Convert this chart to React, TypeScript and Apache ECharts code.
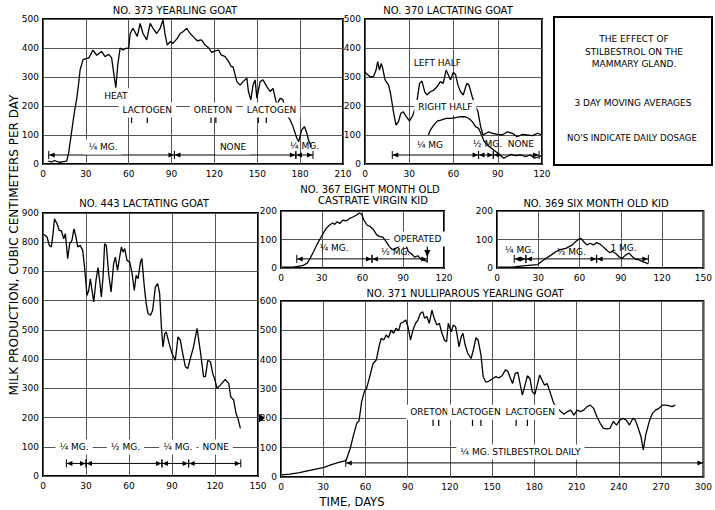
import React, { useEffect, useRef } from 'react';
import * as echarts from 'echarts';

const FONT = '"DejaVu Sans", "Liberation Sans", sans-serif';

// ---------- data (day, cc per day) ----------
const goat373: number[][] = [
  [3.7, 10], [6, 7], [8, 12], [10, 8], [12, 6], [14, 8], [16.6, 10], [18, 40], [20, 110], [22, 180], [23.6, 225], [25, 280],
  [26, 325], [28, 360], [30, 363], [32, 365], [35, 393], [37.6, 375], [41, 388], [43.4, 370], [46, 378], [48, 367], [50, 296],
  [51, 263], [52.3, 340], [54, 400], [56, 393], [58.6, 400], [60, 397], [61, 450], [63, 468], [66, 440], [68, 485], [70, 450],
  [72.6, 428], [75, 485], [77, 468], [79.6, 450], [82, 468], [84, 497], [85.5, 445], [87, 410], [89, 422], [91, 416], [94, 433],
  [96, 450], [98, 456], [100.6, 468], [103, 450], [105, 440], [108, 425], [111, 428], [113.5, 410], [116, 400], [118, 385],
  [120.5, 390], [123, 393], [124.7, 376], [127.5, 370], [130, 353], [131.7, 336], [133, 336], [135.7, 284], [138, 272], [140, 284],
  [142.7, 296], [143.8, 250], [145.5, 221], [147, 272], [148.5, 290], [149.7, 227], [152, 284], [154, 290], [156.7, 267], [159, 250],
  [161, 261], [163.7, 204], [166, 227], [168, 221], [170.7, 169], [173, 152], [175, 129], [177.7, 89], [179, 77], [181, 117],
  [183, 129], [184.7, 106], [186, 80], [188, 60],
];
const goat370Left: number[][] = [
  [0, 316], [3.4, 301], [5.7, 301], [7.5, 324], [8.6, 353], [9.8, 324], [11, 347], [12, 330], [13.6, 290], [16, 272], [17.5, 238],
  [19.3, 180], [21, 134], [22.7, 146], [24.3, 175], [26, 180], [28, 163], [30.2, 148], [32.5, 169], [34.8, 203], [37, 278],
  [38.6, 286], [40.5, 249], [42, 238], [44.3, 249], [46.6, 255], [49, 267], [51, 284], [53, 278], [55, 324], [56, 313], [58, 290],
  [59.8, 316], [61.4, 309], [63, 272], [64.8, 249], [66.6, 238], [69, 278], [70.5, 272], [72.7, 232], [75, 198], [76.6, 180],
  [78.4, 129], [80, 100], [82, 106], [84, 111], [86, 106], [90, 102], [93, 100], [96.6, 111], [100, 106], [103, 94], [107, 102],
  [110, 100], [113.6, 98], [117, 106], [120, 100],
];
const goat370Right: number[][] = [
  [43, 100], [44.3, 117], [46.6, 134], [49, 148], [52, 152], [55, 157], [58, 157], [61.4, 160], [64.8, 163], [68, 163], [70.5, 157],
  [72.7, 146], [75, 129], [77, 123], [79, 100], [80.7, 79], [83, 65], [85.7, 54], [88.6, 43], [91.6, 31], [94, 20], [96, 25],
  [99, 33], [102, 29], [105.7, 31], [109, 25], [112, 31], [114.8, 20], [118, 25], [120, 31],
];
const goat443: number[][] = [
  [0.5, 827], [2.8, 818], [4.4, 789], [5.8, 784], [7, 829], [8, 880], [9.8, 863], [11.4, 840], [12.8, 840], [14.4, 812], [15.6, 829],
  [17.2, 744], [18.6, 795], [20.2, 806], [21.6, 846], [23, 818], [24.2, 784], [26, 789], [27.7, 772], [29, 715], [30.7, 618],
  [31.9, 635], [33, 675], [34.2, 635], [35.4, 596], [37, 670], [38.4, 713], [39.5, 670], [40.7, 613], [41.9, 681], [43, 795],
  [44.2, 789], [45.8, 692], [47.5, 630], [49.3, 727], [50.5, 749], [52, 704], [53.3, 744], [54.7, 784], [55.8, 766], [57, 778],
  [58.6, 738], [60.5, 732], [62, 698], [63.7, 635], [65, 687], [66.3, 675], [68, 732], [69, 744], [70.7, 647], [72, 590], [73.3, 556],
  [75, 550], [76.5, 567], [78.4, 647], [80, 658], [81.4, 624], [82.6, 510], [83.7, 442], [85, 487], [86, 493], [87.7, 459], [90, 419],
  [92.3, 396], [94.2, 476], [95.8, 465], [97.5, 419], [99.3, 374], [101, 368], [102.8, 402], [105, 442], [107.5, 505], [110, 419],
  [112, 340], [113.3, 340], [115, 396], [116.8, 391], [118.4, 351], [120, 328], [121.4, 300], [123.7, 311], [127, 330], [129.6, 317],
  [131, 271], [133, 260], [134.7, 214], [136, 197], [137.7, 163],
];
const goat367: number[][] = [
  [0.7, 3], [8.8, 3], [15.8, 8], [19.3, 17], [21.6, 35], [24, 58], [26.3, 81], [28.6, 101], [31, 121], [33.3, 139], [35.6, 150],
  [38, 158], [39.5, 153], [41.4, 162], [43.3, 156], [45.6, 168], [48, 165], [50.2, 173], [53, 179], [55.4, 185], [57.7, 193],
  [59.5, 188], [61, 168], [63.5, 150], [65.8, 145], [68, 135], [70.5, 116], [72.8, 110], [75, 108], [77.5, 92], [79.8, 75], [82, 64],
  [84.4, 69], [86.8, 75], [89, 92], [91.4, 87], [93.7, 58], [96, 50], [98.4, 38], [100.7, 43], [103, 31], [105.4, 27], [107.7, 23],
];
const goat369: number[][] = [
  [0.7, 3], [11.3, 3], [20.7, 8], [29.6, 12], [32.4, 23], [36, 35], [39.5, 46], [43, 58], [45.4, 64], [47.7, 66], [50, 69], [52.4, 75],
  [54.8, 81], [57, 92], [59.5, 101], [61, 104], [63, 92], [65.4, 81], [67.7, 87], [70, 81], [72.4, 89], [74.8, 84], [77, 75],
  [79.5, 64], [81.8, 54], [84, 58], [86.5, 50], [89, 38], [91.2, 35], [93.6, 46], [96, 52], [98.3, 40], [100.6, 31], [103, 29],
  [105.3, 23], [108.8, 17], [110, 14],
];
const goat371: number[][] = [
  [0.5, 7], [6.3, 10], [13.2, 15], [17.9, 20], [24.8, 27], [30.6, 33], [35.3, 41], [41, 50], [46.2, 56], [49.2, 98], [51.5, 143],
  [53.8, 183], [55.4, 191], [57.3, 257], [59.2, 291], [60.8, 302], [63, 342], [65.4, 387], [67.7, 399], [69.6, 444], [71.2, 473],
  [73, 467], [74.7, 484], [76.3, 475], [78.2, 501], [80, 490], [81.7, 507], [83.5, 498], [85, 524], [87, 529], [88.6, 535],
  [90.2, 512], [92, 467], [93.7, 501], [95.6, 524], [97.2, 535], [99, 558], [100.7, 563], [102, 541], [103.7, 547], [105.3, 524],
  [107.2, 569], [108.8, 541], [110.7, 518], [112.5, 524], [114, 495], [116, 467], [117.6, 461], [118.8, 524], [120, 507], [121, 495],
  [122.3, 518], [124, 512], [125.3, 478], [126.4, 444], [128, 478], [129.2, 490], [130.8, 450], [132.7, 421], [135, 404],
  [136.6, 433], [138.5, 475], [140, 467], [142, 416], [143.6, 342], [145.5, 323], [147.8, 327], [150, 334], [152.4, 342],
  [154.7, 338], [157, 345], [159.4, 365], [161, 361], [163, 336], [164.5, 319], [166.3, 353], [168.2, 357], [170, 313],
  [171.4, 279], [173.3, 313], [175, 345], [176.8, 336], [178.4, 291], [180.3, 282], [182, 313], [183.7, 348], [185.4, 331],
  [187.2, 313], [189, 319], [191.4, 285], [193.7, 251], [196.5, 234], [198.8, 223], [201, 214], [203.5, 223], [205.8, 228],
  [208, 211], [210.4, 228], [212.7, 223], [215, 228], [217.4, 240], [219.7, 245], [222, 234], [224.3, 206], [226.7, 183],
  [229, 166], [231.3, 164], [233.6, 166], [236, 189], [238.3, 177], [240.6, 194], [243, 200], [245.2, 194], [247.5, 177],
  [249.9, 200], [251.7, 194], [253.3, 172], [255.7, 137], [257.3, 92], [259, 143], [261.5, 189], [263.8, 217], [266, 228],
  [268.4, 234], [270.7, 245], [273, 245], [275.4, 243], [277.7, 240], [280, 245],
];

// dosage periods: [start day, end day, level, bar at end]
const dose373 = [[4, 92, 31, 1], [92, 177, 31, 1], [177, 189, 31, 1]];
const dose370 = [[18.5, 77, 31, 1], [77, 87, 31, 1], [87, 118, 31, 1]];
const dose443 = [[16.3, 30, 43, 1], [30, 83, 43, 1], [83, 101.6, 43, 1], [101.6, 138, 43, 1]];
const dose367 = [[11.6, 67, 32, 1], [67, 107.7, 32, 1]];
const dose369 = [[12.5, 21, 32, 1], [21, 72.4, 32, 1], [72.4, 110, 32, 1]];
const dose371 = [[46, 300, 48, 0]];

// injection marks: [day, low, high, arrow]
const marks373 = [[62, 141, 176, 0], [73, 141, 176, 0], [117.6, 141, 176, 0], [121, 141, 176, 0], [150.7, 141, 176, 0], [156.3, 141, 176, 0]];
const marks367 = [[107.7, 42, 90, 1]];
const marks371 = [[108, 174, 200, 0], [112, 174, 200, 0], [136, 174, 200, 0], [142, 174, 200, 0], [167, 174, 200, 0], [175, 174, 200, 0]];

// annotations: [text, day, value, white backing]
const notes373: [string, number, number, number][] = [
  ['HEAT', 51, 235, 1], ['LACTOGEN', 73, 186, 1], ['ORETON', 119, 186, 1], ['LACTOGEN', 160, 186, 1],
  ['¼ MG.', 42, 59, 1], ['NONE', 133, 59, 1], ['¼ MG.', 183, 62, 0],
];
const notes370: [string, number, number, number][] = [
  ['LEFT HALF', 49, 348, 0], ['RIGHT HALF', 54.5, 195, 1], ['¼ MG', 44, 66, 1], ['½ MG.', 83, 69, 0], ['NONE', 105.7, 69, 0],
];
const notes443: [string, number, number, number][] = [
  ['¼ MG.', 21.7, 99, 1], ['½ MG.', 57.5, 99, 1], ['¼ MG.', 94, 99, 1], ['NONE', 120.5, 99, 1],
];
const notes367: [string, number, number, number][] = [
  ['¼ MG.', 39, 70, 0], ['½ MG.', 84.4, 56, 0], ['OPERATED', 100.5, 102, 1],
];
const notes369: [string, number, number, number][] = [
  ['¼ MG.', 16.3, 63, 0], ['½ MG.', 54, 56, 0], ['1 MG.', 92, 70, 0],
];
const notes371: [string, number, number, number][] = [
  ['ORETON', 105.4, 221, 1], ['LACTOGEN', 138.5, 221, 1], ['LACTOGEN', 177, 221, 1], ['¼ MG. STILBESTROL DAILY', 170, 85, 1],
];

const panelTitles = [
  'NO. 373 YEARLING GOAT', 'NO. 370 LACTATING GOAT', 'NO. 443 LACTATING GOAT',
  'NO. 367 EIGHT MONTH OLD', 'CASTRATE VIRGIN KID', 'NO. 369 SIX MONTH OLD KID', 'NO. 371 NULLIPAROUS YEARLING GOAT',
];
const boxLines = ['THE EFFECT OF', 'STILBESTROL ON THE', 'MAMMARY GLAND.', '3 DAY MOVING AVERAGES', "NO'S INDICATE DAILY DOSAGE"];
const yTitle = 'MILK PRODUCTION, CUBIC CENTIMETERS PER DAY';
const xTitle = 'TIME, DAYS';

const INK = '#000';

function xAx(i: number, max: number) {
  return {
    type: 'value', gridIndex: i, min: 0, max, interval: 30,
    axisLine: { show: false }, axisTick: { show: false },
    axisLabel: { fontSize: 9, color: INK, fontFamily: FONT, margin: 5, showMaxLabel: true },
    splitLine: { show: true, lineStyle: { color: '#555', width: 1 } },
  };
}
function yAx(i: number, max: number) {
  return {
    type: 'value', gridIndex: i, min: 0, max, interval: 100,
    axisLine: { show: false }, axisTick: { show: false },
    axisLabel: { fontSize: 9, color: INK, fontFamily: FONT, margin: 4 },
    splitLine: { show: true, lineStyle: { color: '#555', width: 1 } },
  };
}
function curve(i: number, data: number[][]) {
  return {
    type: 'line', xAxisIndex: i, yAxisIndex: i, data, symbol: 'none', showSymbol: false,
    lineStyle: { color: INK, width: 1.3 }, z: 3, silent: true,
  };
}
function dosage(i: number, data: number[][]) {
  return {
    type: 'custom', xAxisIndex: i, yAxisIndex: i, data, z: 4, silent: true,
    renderItem: (_p: any, api: any) => {
      const y = api.value(2);
      const p0 = api.coord([api.value(0), y]);
      const p1 = api.coord([api.value(1), y]);
      const st = { stroke: INK, lineWidth: 1 };
      const children: any[] = [
        { type: 'line', shape: { x1: p0[0], y1: p0[1], x2: p1[0], y2: p1[1] }, style: st },
        { type: 'line', shape: { x1: p0[0], y1: p0[1] - 4, x2: p0[0], y2: p0[1] + 4 }, style: st },
        { type: 'polygon', shape: { points: [[p0[0] + 0.5, p0[1]], [p0[0] + 6, p0[1] - 2.5], [p0[0] + 6, p0[1] + 2.5]] }, style: { fill: INK } },
        { type: 'polygon', shape: { points: [[p1[0] - 0.5, p1[1]], [p1[0] - 6, p1[1] - 2.5], [p1[0] - 6, p1[1] + 2.5]] }, style: { fill: INK } },
      ];
      if (api.value(3)) children.push({ type: 'line', shape: { x1: p1[0], y1: p1[1] - 4, x2: p1[0], y2: p1[1] + 4 }, style: st });
      return { type: 'group', children };
    },
  };
}
function marks(i: number, data: number[][]) {
  return {
    type: 'custom', xAxisIndex: i, yAxisIndex: i, data, z: 4, silent: true,
    renderItem: (_p: any, api: any) => {
      const x = api.value(0);
      const a = api.coord([x, api.value(1)]);
      const b = api.coord([x, api.value(2)]);
      const children: any[] = [{ type: 'line', shape: { x1: a[0], y1: a[1], x2: b[0], y2: b[1] }, style: { stroke: INK, lineWidth: 1.2 } }];
      if (api.value(3)) children.push({ type: 'polygon', shape: { points: [[a[0], a[1] + 1], [a[0] - 3, a[1] - 6], [a[0] + 3, a[1] - 6]] }, style: { fill: INK } });
      return { type: 'group', children };
    },
  };
}
function notes(i: number, list: [string, number, number, number][]) {
  return {
    type: 'scatter', xAxisIndex: i, yAxisIndex: i, symbolSize: 0, z: 6, silent: true,
    itemStyle: { opacity: 1 },
    label: { show: true, position: 'inside', formatter: '{b}', color: INK, opacity: 1, fontFamily: FONT, fontSize: 9 },
    data: list.map(([t, d, v, bg]) => ({
      name: t, value: [d, v],
      label: bg ? { backgroundColor: '#fff', padding: [3, 4] } : {},
    })),
  };
}
function txt(text: string, x: number, y: number, size: number, rot = 0) {
  return {
    type: 'text', x, y, rotation: rot, silent: true, z: 10,
    style: { text, fill: INK, font: `${size}px ${FONT}`, align: 'center', verticalAlign: 'middle', textAlign: 'center', textVerticalAlign: 'middle' },
  };
}

export default function App() {
  const ref = useRef<HTMLDivElement>(null);
  useEffect(() => {
    if (!ref.current) return;
    const chart = echarts.init(ref.current, undefined, { renderer: 'svg' });
    const border = { show: true, borderColor: '#000', borderWidth: 2, backgroundColor: 'transparent' };
    chart.setOption({
      animation: false,
      backgroundColor: '#fff',
      grid: [
        { left: 43, top: 19, width: 300, height: 145, ...border },
        { left: 365, top: 19, width: 177, height: 145, ...border },
        { left: 43, top: 213, width: 215, height: 263, ...border },
        { left: 281, top: 211, width: 163, height: 57, ...border },
        { left: 497, top: 211, width: 210, height: 57, ...border },
        { left: 281, top: 301, width: 431, height: 176, ...border },
      ],
      xAxis: [xAx(0, 210), xAx(1, 120), xAx(2, 150), xAx(3, 120), xAx(4, 150), xAx(5, 300)],
      yAxis: [yAx(0, 500), yAx(1, 500), yAx(2, 900), yAx(3, 200), yAx(4, 200), yAx(5, 600)],
      series: [
        curve(0, goat373), curve(1, goat370Left), curve(1, goat370Right), curve(2, goat443),
        curve(3, goat367), curve(4, goat369), curve(5, goat371),
        dosage(0, dose373), dosage(1, dose370), dosage(2, dose443), dosage(3, dose367), dosage(4, dose369), dosage(5, dose371),
        marks(0, marks373), marks(3, marks367), marks(5, marks371),
        notes(0, notes373), notes(1, notes370), notes(2, notes443), notes(3, notes367), notes(4, notes369), notes(5, notes371),
      ],
      graphic: [
        txt(panelTitles[0], 175, 10, 10),
        txt(panelTitles[1], 448, 10, 10),
        txt(panelTitles[2], 144, 203, 10),
        txt(panelTitles[3], 370, 189, 10),
        txt(panelTitles[4], 373, 200, 10),
        txt(panelTitles[5], 596, 203, 10),
        txt(panelTitles[6], 465, 293, 10),
        { type: 'rect', shape: { x: 554, y: 17, width: 158, height: 148 }, style: { fill: 'none', stroke: '#000', lineWidth: 2 }, silent: true },
        txt(boxLines[0], 634, 39, 9),
        txt(boxLines[1], 634, 52, 9),
        txt(boxLines[2], 634, 64, 9),
        txt(boxLines[3], 633, 103, 9),
        txt(boxLines[4], 632, 138, 8.6),
        txt(yTitle, 14, 245, 12, Math.PI / 2),
        txt(xTitle, 352, 502, 11.5),
        { type: 'polygon', shape: { points: [[258, 413], [265, 418], [258, 423]] }, style: { fill: '#000' }, silent: true },
      ],
    });
    return () => chart.dispose();
  }, []);
  return <div ref={ref} style={{ position: 'absolute', left: 0, top: 0, width: 715, height: 510, background: '#fff' }} />;
}
